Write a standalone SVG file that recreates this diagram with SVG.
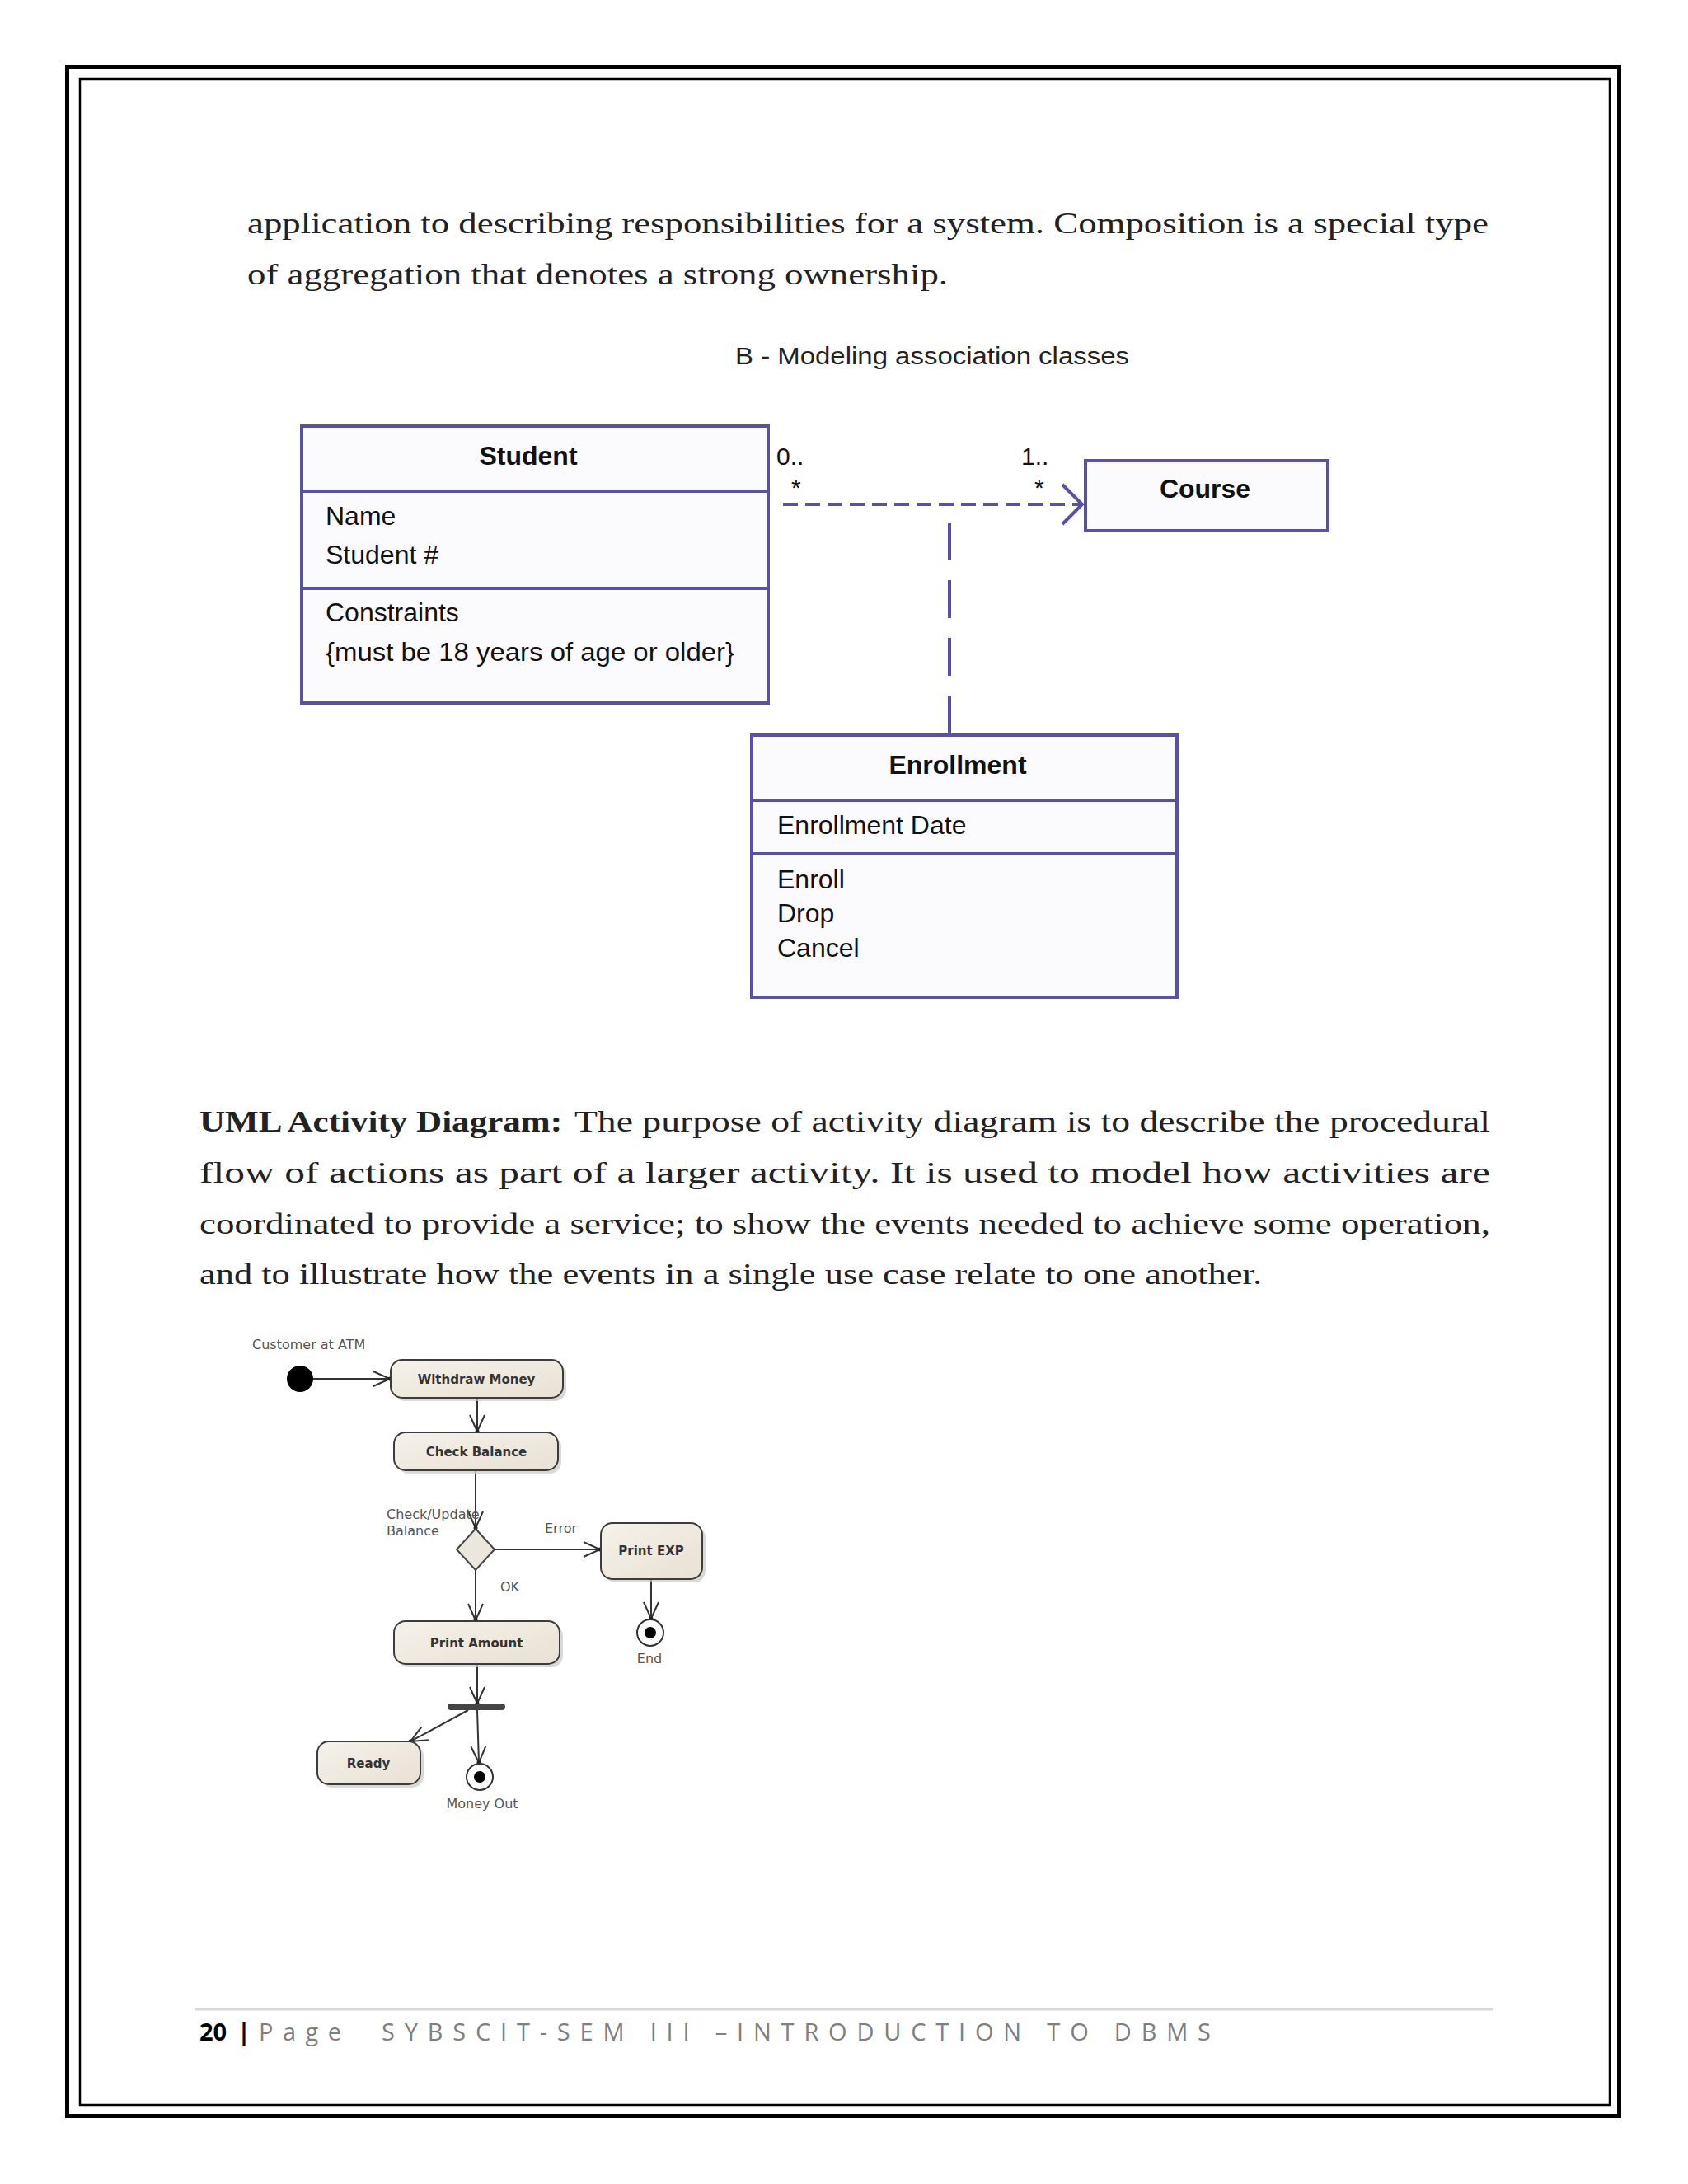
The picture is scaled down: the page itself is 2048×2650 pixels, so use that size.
<svg xmlns="http://www.w3.org/2000/svg" width="2048" height="2650" viewBox="0 0 2048 2650">
<defs>
<style>
.body{font-family:"Liberation Serif","Times New Roman",serif;font-size:35px;fill:#222}
.bold{font-weight:bold}
.uml{fill:#fbfbfd;stroke:#5b51a3;stroke-width:4}
.umldiv{stroke:#5b51a3;stroke-width:4}
.ut{font-family:"Liberation Sans",Arial,sans-serif;font-size:32px;fill:#111}
.utb{font-family:"Liberation Sans",Arial,sans-serif;font-size:32px;font-weight:bold;fill:#111}
.mult{font-family:"Liberation Sans",Arial,sans-serif;font-size:30px;fill:#111}
.act{fill:url(#beige);stroke:#3c3c3c;stroke-width:2}
.shadow{fill:#c9c9c9;opacity:0.7}
.at{font-family:"DejaVu Sans",Verdana,sans-serif;font-size:15px;font-weight:bold;fill:#333;text-anchor:middle}
.al{font-family:"DejaVu Sans",Verdana,sans-serif;font-size:16px;fill:#555}
.edge{stroke:#333;stroke-width:2;fill:none}
.foot{font-family:"Open Sans","Liberation Sans",sans-serif;font-size:29px;fill:#7f7f7f}
</style>
<linearGradient id="beige" x1="0" y1="0" x2="1" y2="1">
<stop offset="0" stop-color="#f6f2ea"/>
<stop offset="1" stop-color="#e8e1d3"/>
</linearGradient>
<marker id="vee" markerUnits="userSpaceOnUse" markerWidth="24" markerHeight="22" refX="21" refY="11" orient="auto">
<path d="M1,2 L21,11 L1,20" fill="none" stroke="#333" stroke-width="2"/>
<circle cx="21" cy="11" r="2.5" fill="#222"/>
</marker>
</defs>
<rect width="2048" height="2650" fill="#ffffff"/>
<!-- page borders -->
<rect x="81.5" y="81.5" width="1883" height="2486" fill="none" stroke="#000" stroke-width="5"/>
<rect x="97" y="96" width="1856" height="2458" fill="none" stroke="#000" stroke-width="2.5"/>

<!-- paragraph 1 -->
<text class="body" x="300" y="283" textLength="1506" lengthAdjust="spacingAndGlyphs">application to describing responsibilities for a system. Composition is a special type</text>
<text class="body" x="300" y="345" textLength="850" lengthAdjust="spacingAndGlyphs">of aggregation that denotes a strong ownership.</text>

<!-- caption -->
<text x="892" y="442" font-family="Liberation Sans, Arial, sans-serif" font-size="30" fill="#222" textLength="478" lengthAdjust="spacingAndGlyphs">B - Modeling association classes</text>

<!-- UML class diagram connectors -->
<g id="uml-connectors">
<line x1="950" y1="612" x2="1310" y2="612" stroke="#5b51a3" stroke-width="4" stroke-dasharray="18 9"/>
<polyline points="1289,588 1313,612 1289,636" fill="none" stroke="#5b51a3" stroke-width="4"/>
<line x1="1152" y1="634" x2="1152" y2="892" stroke="#5b51a3" stroke-width="4" stroke-dasharray="46 24"/>
<text class="mult" x="942" y="564">0..</text>
<text class="mult" x="960" y="602">*</text>
<text class="mult" x="1239" y="564">1..</text>
<text class="mult" x="1255" y="602">*</text>
</g>

<g id="student">
<rect class="uml" x="366" y="517" width="566" height="336"/>
<line class="umldiv" x1="366" y1="596" x2="932" y2="596"/>
<line class="umldiv" x1="366" y1="714" x2="932" y2="714"/>
<text class="utb" x="641" y="564" text-anchor="middle">Student</text>
<text class="ut" x="395" y="637">Name</text>
<text class="ut" x="395" y="684">Student #</text>
<text class="ut" x="395" y="754">Constraints</text>
<text class="ut" x="395" y="802" textLength="496" lengthAdjust="spacingAndGlyphs">{must be 18 years of age or older}</text>
</g>

<g id="course">
<rect class="uml" x="1317" y="559" width="294" height="85"/>
<text class="utb" x="1462" y="604" text-anchor="middle">Course</text>
</g>

<g id="enrollment">
<rect class="uml" x="912" y="892" width="516" height="318"/>
<line class="umldiv" x1="912" y1="971" x2="1428" y2="971"/>
<line class="umldiv" x1="912" y1="1036" x2="1428" y2="1036"/>
<text class="utb" x="1162" y="939" text-anchor="middle">Enrollment</text>
<text class="ut" x="943" y="1012">Enrollment Date</text>
<text class="ut" x="943" y="1078">Enroll</text>
<text class="ut" x="943" y="1119">Drop</text>
<text class="ut" x="943" y="1161">Cancel</text>
</g>

<!-- paragraph 2 -->
<text class="body" y="1373"><tspan class="bold" x="242" textLength="440" lengthAdjust="spacingAndGlyphs">UML Activity Diagram:</tspan><tspan x="697" textLength="1111" lengthAdjust="spacingAndGlyphs">The purpose of activity diagram is to describe the procedural</tspan></text>
<text class="body" x="242" y="1435" textLength="1566" lengthAdjust="spacingAndGlyphs">flow of actions as part of a larger activity. It is used to model how activities are</text>
<text class="body" x="242" y="1497" textLength="1566" lengthAdjust="spacingAndGlyphs">coordinated to provide a service; to show the events needed to achieve some operation,</text>
<text class="body" x="242" y="1558" textLength="1289" lengthAdjust="spacingAndGlyphs">and to illustrate how the events in a single use case relate to one another.</text>

<!-- activity diagram -->
<text class="al" x="306" y="1637">Customer at ATM</text>

<g id="act-connectors">
<line class="edge" x1="380" y1="1673" x2="473" y2="1673" marker-end="url(#vee)"/>
<line class="edge" x1="579" y1="1696" x2="579" y2="1737" marker-end="url(#vee)"/>
<line class="edge" x1="577" y1="1784" x2="577" y2="1854" marker-end="url(#vee)"/>
<line class="edge" x1="600" y1="1880" x2="728" y2="1880" marker-end="url(#vee)"/>
<line class="edge" x1="577" y1="1905" x2="577" y2="1966" marker-end="url(#vee)"/>
<line class="edge" x1="790" y1="1916" x2="790" y2="1964" marker-end="url(#vee)"/>
<line class="edge" x1="579" y1="2019" x2="579" y2="2067" marker-end="url(#vee)"/>
<line class="edge" x1="568" y1="2075" x2="498" y2="2113" marker-end="url(#vee)"/>
<line class="edge" x1="579" y1="2075" x2="581" y2="2139" marker-end="url(#vee)"/>
<text class="al" x="469" y="1843">Check/Update</text>
<text class="al" x="469" y="1863">Balance</text>
<text class="al" x="661" y="1860">Error</text>
<text class="al" x="607" y="1931">OK</text>
</g>

<g id="initial">
<circle cx="364" cy="1673" r="16" fill="#000"/>
</g>

<g id="withdraw">
<rect class="shadow" x="478" y="1654" width="209" height="46" rx="14"/>
<rect class="act" x="474" y="1650" width="209" height="46" rx="14"/>
<text class="at" x="578" y="1679">Withdraw Money</text>
</g>

<g id="check">
<rect class="shadow" x="482" y="1742" width="199" height="46" rx="14"/>
<rect class="act" x="478" y="1738" width="199" height="46" rx="14"/>
<text class="at" x="578" y="1767">Check Balance</text>
</g>

<g id="decision">
<polygon points="577,1855 600,1880 577,1905 554,1880" fill="#ece7dc" stroke="#444" stroke-width="2"/>
</g>

<g id="printexp">
<rect class="shadow" x="733" y="1852" width="123" height="68" rx="14"/>
<rect class="act" x="729" y="1848" width="123" height="68" rx="14"/>
<text class="at" x="790" y="1887">Print EXP</text>
</g>

<g id="end">
<circle cx="789" cy="1981" r="16" fill="#fff" stroke="#333" stroke-width="2"/>
<circle cx="789" cy="1981" r="7" fill="#000"/>
<text class="al" x="788" y="2018" text-anchor="middle">End</text>
</g>

<g id="printamount">
<rect class="shadow" x="482" y="1971" width="201" height="52" rx="14"/>
<rect class="act" x="478" y="1967" width="201" height="52" rx="14"/>
<text class="at" x="578" y="1999">Print Amount</text>
</g>

<g id="fork">
<rect x="543" y="2067" width="70" height="8" rx="4" fill="#444"/>
</g>

<g id="ready">
<rect class="shadow" x="389" y="2117" width="125" height="52" rx="14"/>
<rect class="act" x="385" y="2113" width="125" height="52" rx="14"/>
<text class="at" x="447" y="2145">Ready</text>
</g>

<g id="moneyout">
<circle cx="582" cy="2156" r="16" fill="#fff" stroke="#333" stroke-width="2"/>
<circle cx="582" cy="2156" r="7" fill="#000"/>
<text class="al" x="585" y="2194" text-anchor="middle">Money Out</text>
</g>

<!-- footer -->
<line x1="236" y1="2438" x2="1812" y2="2438" stroke="#d9d9d9" stroke-width="3"/>
<text class="foot" y="2476"><tspan x="242" font-weight="bold" fill="#000">20</tspan><tspan x="288" font-weight="bold" fill="#000">|</tspan><tspan x="314" textLength="100" lengthAdjust="spacing">Page</tspan><tspan x="463" textLength="1006" lengthAdjust="spacing">SYBSCIT-SEM III –INTRODUCTION TO DBMS</tspan></text>
</svg>
